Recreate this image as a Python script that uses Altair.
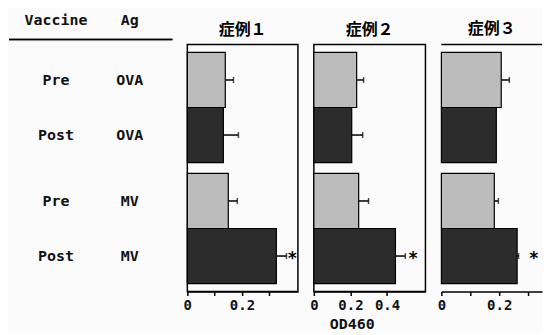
import altair as alt
import pandas as pd

# ---- data ----
cases = ["症例１", "症例２", "症例３"]
vaccine = ["Pre", "Post", "Pre", "Post"]
antigen = ["OVA", "OVA", "MV", "MV"]

od_case1 = [0.139, 0.132, 0.150, 0.326]
err_case1 = [0.030, 0.055, 0.033, 0.037]
od_case2 = [0.234, 0.207, 0.245, 0.446]
err_case2 = [0.038, 0.060, 0.054, 0.054]
od_case3 = [0.207, 0.190, 0.183, 0.262]
err_case3 = [0.028, 0.000, 0.014, 0.005]

star_x = [0.385, 0.543, 0.320]

tick_values = [[0, 0.1, 0.2, 0.3], [0, 0.2, 0.4], [0, 0.1, 0.2, 0.3]]
label_values = [[0, 0.2], [0, 0.2, 0.4], [0, 0.2]]
x_max = [0.405, 0.61, 0.348]

header_cols = ["Vaccine", "Ag"]

ods = [od_case1, od_case2, od_case3]
errs = [err_case1, err_case2, err_case3]

H = 248
MONO = "DejaVu Sans Mono"
CJK = "Noto Sans CJK JP"

y_enc = alt.Y("Ag:N", sort=["OVA", "MV"],
              scale=alt.Scale(paddingInner=0.09, paddingOuter=0.066), axis=None)
yoff_enc = alt.YOffset("Vaccine:N", sort=["Pre", "Post"],
                       scale=alt.Scale(paddingInner=0, paddingOuter=0))

# ---- left table ----
tab_rows = []
for v, a in zip(vaccine, antigen):
    tab_rows.append({"Vaccine": v, "Ag": a, "col": "Vaccine", "text": v})
    tab_rows.append({"Vaccine": v, "Ag": a, "col": "Ag", "text": a})
tab_df = pd.DataFrame(tab_rows)
x_tab = alt.X("col:N", sort=header_cols,
              scale=alt.Scale(type="point", padding=0.6, align=0.53), axis=None)

tab_text = alt.Chart(tab_df).mark_text(font=MONO, fontSize=15, fontWeight="bold",
                                       color="#111111").encode(
    x=x_tab, y=y_enc, yOffset=yoff_enc, text="text:N")
head_df = pd.DataFrame({"col": header_cols, "text": header_cols})
tab_head = alt.Chart(head_df).mark_text(font=MONO, fontSize=15, fontWeight="bold",
                                        color="#111111").encode(
    x=x_tab, y=alt.value(-25), text="text:N")
tab_line = alt.Chart(head_df).mark_rule(color="black", strokeWidth=1.5).encode(
    x=alt.value(0), x2=alt.value(164), y=alt.value(-5))
table = alt.layer(tab_text, tab_head, tab_line).properties(width=163, height=H)

# ---- panels ----
def panel(i, width):
    df = pd.DataFrame({
        "Vaccine": vaccine, "Ag": antigen,
        "od": ods[i], "err": errs[i],
    })
    df["hi"] = df["od"] + df["err"]
    lv = label_values[i]
    lab_expr = " || ".join(f"abs(datum.value - {v}) < 0.001" for v in lv)
    xs = alt.Scale(domain=[0, x_max[i]], nice=False, zero=True)
    axis = alt.Axis(values=tick_values[i],
                    labelExpr=f"({lab_expr}) ? format(datum.value, '.1~f') : ''",
                    labelOverlap=False,
                    grid=False, tickSize=4, tickColor="black", tickWidth=1.5,
                    domainColor="black", domainWidth=1.5,
                    labelFont=MONO, labelFontSize=14, labelFontWeight="bold",
                    labelColor="#111111", labelPadding=3, labelFlush=False,
                    title="OD460" if i == 1 else None,
                    titleFont=MONO, titleFontSize=15, titleFontWeight="bold", titleColor="#111111",
                    titleX=38, titleY=32, titleAlign="center", titleBaseline="middle")
    base = alt.Chart(df)
    yax_enc = y_enc
    if i == 2:
        yax_enc = alt.Y("Ag:N", sort=["OVA", "MV"],
                        scale=alt.Scale(paddingInner=0.09, paddingOuter=0.066),
                        axis=alt.Axis(labels=False, ticks=False, title=None,
                                      domainColor="black", domainWidth=1.5))
    bars = base.mark_bar(stroke="black", strokeWidth=1.2).encode(
        x=alt.X("od:Q", scale=xs, axis=axis),
        y=yax_enc, yOffset=yoff_enc,
        color=alt.Color("Vaccine:N", scale=alt.Scale(domain=["Pre", "Post"],
                                                     range=["#bcbcbc", "#2c2c2c"]), legend=None))
    err = base.transform_filter("datum.err > 0").mark_rule(color="black", strokeWidth=1.5).encode(
        x=alt.X("od:Q", axis=None), x2="hi:Q", y=y_enc, yOffset=yoff_enc)
    cap = base.transform_filter("datum.err > 0").mark_tick(color="black", size=6, thickness=1.5).encode(
        x=alt.X("hi:Q", axis=None), y=y_enc, yOffset=yoff_enc)
    star_df = pd.DataFrame({"Vaccine": ["Post"], "Ag": ["MV"], "sx": [star_x[i]]})
    star = alt.Chart(star_df).mark_text(text="*", font=MONO, fontSize=17, fontWeight="bold",
                                        color="black", dy=3).encode(
        x=alt.X("sx:Q", axis=None), y=y_enc, yOffset=yoff_enc)
    layers = [bars, err, cap, star]
    if i == 2:
        # top border line of the (cropped) third frame
        top = alt.Chart(star_df).mark_rule(color="black", strokeWidth=1.5).encode(
            x=alt.value(0), x2=alt.value(width), y=alt.value(0))
        layers.append(top)
    ch = alt.layer(*layers).resolve_axis(x="independent")
    props = dict(width=width, height=H,
                 title=alt.TitleParams(cases[i], font=CJK, fontSize=16, fontWeight="bold",
                                       color="black", offset=7))
    if i < 2:
        props["view"] = alt.ViewBackground(stroke="black", strokeWidth=1.5)
    return ch.properties(**props)

p1 = panel(0, 111)
p2 = panel(1, 112)
p3 = panel(2, 101)

chart = alt.hconcat(table, p1, p2, p3, spacing=16, bounds="flush").properties(
    padding={"left": 0, "top": 4, "right": 0, "bottom": 0},
    background="#fbfbfb",
).configure_view(strokeWidth=0)

chart.save("out.html", embed_options={"renderer": "svg", "actions": False})
